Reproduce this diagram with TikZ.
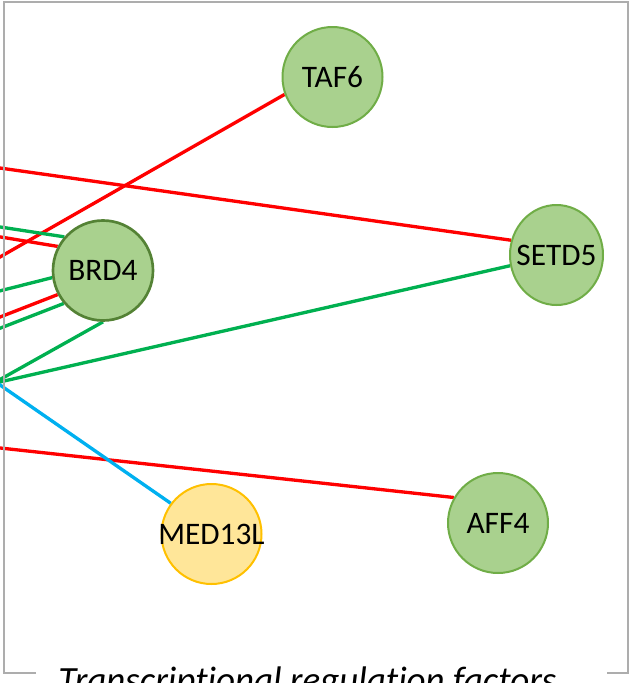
\documentclass[tikz,border=0pt]{standalone}
\usepackage{fontspec}
\setmainfont{Carlito}[Ligatures=NoCommon]
\usetikzlibrary{shapes.geometric,backgrounds}
\definecolor{genefill}{HTML}{A9D18E}
\definecolor{genedraw}{HTML}{70AD47}
\definecolor{hubdraw}{HTML}{548235}
\definecolor{medfill}{HTML}{FFE699}
\definecolor{meddraw}{HTML}{FFC000}
\definecolor{linkred}{HTML}{FF0000}
\definecolor{linkgreen}{HTML}{00B050}
\definecolor{linkblue}{HTML}{00B0F0}
\definecolor{framegray}{HTML}{ADADAD}

\begin{document}
\begin{tikzpicture}[x=0.75pt,y=-0.75pt,
	gene/.style={circle,draw=genedraw,fill=genefill,line width=1.5pt,minimum size=75pt,inner ysep=0pt,inner xsep=-15pt,font=\fontsize{23.5pt}{28pt}\selectfont},
	link/.style={line width=2.5pt}]
	\useasboundingbox (0,0) rectangle (630,683);
	\clip (0,0) rectangle (630,683);

	% genes
	\node[gene] (taf6) at (332.5,77) {TAF6};
	\node[gene,draw=hubdraw,line width=2pt] (brd4) at (103,270.5) {BRD4};
	\node[gene,ellipse,minimum width=69.75pt,minimum height=75pt] (setd5) at (556.5,255) {SETD5};
	\node[gene] (aff4) at (498,523) {AFF4};
	\node[gene,draw=meddraw,fill=medfill] (med13l) at (211.5,534) {MED13L};

	% free ends left of the frame
	\coordinate (l1) at (-20,165.2);
	\coordinate (l2) at (-20,268.4);
	\coordinate (l3) at (-20,233.6);
	\coordinate (l4) at (-20,324.8);
	\coordinate (l5) at (-20,445.8);
	\coordinate (l6) at (-20,223.9);
	\coordinate (l7) at (-20,295.9);
	\coordinate (l8) at (-20,336);
	\coordinate (l9) at (-20,390.7);
	\coordinate (l10) at (-20,386.5);
	\coordinate (l11) at (-20,371.1);

	\begin{scope}[on background layer]
		\draw[link,linkred] (l1) -- (setd5.162);
		\draw[link,linkred] (l2) -- (taf6.200);
		\draw[link,linkred] (l3) -- (brd4.152);
		\draw[link,linkred] (l4) -- (brd4.208);
		\draw[link,linkred] (l5) -- (aff4.150);
		\draw[link,linkgreen] (l6) -- (brd4.139);
		\draw[link,linkgreen] (l7) -- (brd4.188);
		\draw[link,linkgreen] (l8) -- (brd4.220);
		\draw[link,linkgreen] (l9) -- (brd4.south);
		\draw[link,linkgreen] (l10) -- (setd5.193);
		\draw[link,linkblue] (l11) -- (med13l.143);
	\end{scope}

	% frame with its title
	\draw[framegray,line width=1.5pt] (36,673) -- (4,673) -- (4,2) -- (628,2) -- (628,673) -- (607,673);
	\node[anchor=base,font=\fontsize{27.75pt}{33pt}\selectfont\itshape,inner sep=0pt] (title) at (307.5,692) {Transcriptional regulation factors};
\end{tikzpicture}
\end{document}
